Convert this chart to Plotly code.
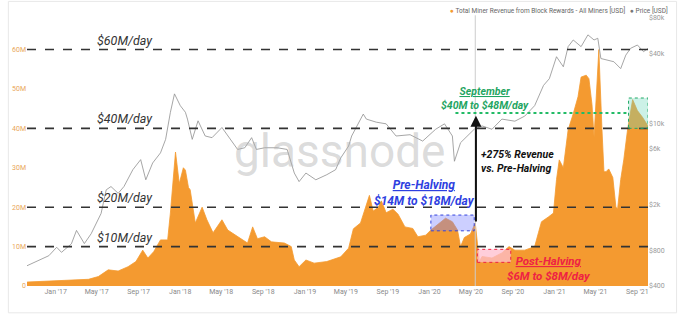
import plotly.graph_objects as go

# ---------------- data ----------------
rev_dates = ["2016-10-09","2016-12-29","2017-04-07","2017-05-06","2017-06-04","2017-07-03","2017-08-01",
             "2017-08-24","2017-09-13","2017-09-28","2017-10-15","2017-11-04","2017-11-25","2017-12-03",
             "2017-12-18","2017-12-29","2018-01-10","2018-01-16","2018-01-25","2018-01-30","2018-02-14",
             "2018-03-06","2018-03-20","2018-04-07","2018-05-03","2018-05-20","2018-06-18","2018-07-17",
             "2018-08-01","2018-08-15","2018-09-05","2018-09-25","2018-11-02","2018-11-22","2018-12-01",
             "2018-12-15","2019-01-04","2019-01-28","2019-03-06","2019-04-16","2019-05-09","2019-05-23",
             "2019-06-13","2019-06-27","2019-07-09","2019-07-20","2019-08-04","2019-08-13","2019-08-27",
             "2019-09-16","2019-10-01","2019-10-21","2019-11-13","2019-11-28","2019-12-21","2020-01-05",
             "2020-01-31","2020-02-17","2020-03-08","2020-03-23","2020-04-01","2020-04-12","2020-04-30",
             "2020-05-14","2020-05-26","2020-06-03","2020-07-02","2020-07-31","2020-08-21","2020-09-07",
             "2020-10-06","2020-11-04","2020-11-15","2020-11-24","2020-12-14","2020-12-29","2021-01-07",
             "2021-01-15","2021-01-27","2021-02-10","2021-02-25","2021-03-11","2021-03-20","2021-04-04",
             "2021-04-12","2021-04-21","2021-04-27","2021-05-06","2021-05-11","2021-05-20","2021-05-26",
             "2021-06-01","2021-06-09","2021-06-21","2021-06-30","2021-07-05","2021-07-14","2021-07-23",
             "2021-08-03","2021-08-18","2021-09-01","2021-09-16","2021-10-02"]
rev_musd = [1.0,1.3,1.7,2.4,4.1,3.8,4.9,
            6.2,9.1,7.1,8.7,11.7,11.7,18.5,
            34.0,26.0,30.0,29.4,25.0,24.4,16.0,
            20.0,16.8,13.5,16.8,14.2,12.5,10.9,
            15.0,12.0,12.5,11.2,10.9,10.0,6.6,
            4.9,6.6,5.8,6.2,7.4,9.6,14.5,
            16.0,20.0,23.0,19.0,20.0,21.6,18.6,
            19.5,18.2,15.0,14.6,12.5,12.9,14.2,
            15.9,17.2,16.3,14.2,10.0,12.3,13.2,
            16.0,6.2,7.5,7.1,8.4,10.0,9.1,
            9.1,10.0,13.5,16.3,17.5,18.5,27.0,
            32.0,30.0,39.6,43.7,48.0,53.0,53.5,
            52.6,46.0,37.8,50.5,60.0,40.0,29.0,
            29.0,29.7,27.5,20.0,19.6,27.0,32.0,
            39.6,47.3,44.5,42.8,40.6]

price_dates = ["2016-10-09","2016-11-13","2016-12-12","2017-01-04","2017-01-18","2017-02-16","2017-03-03",
               "2017-03-26","2017-04-15","2017-05-14","2017-05-29","2017-06-12","2017-07-03","2017-07-20",
               "2017-08-15","2017-09-07","2017-09-22","2017-10-12","2017-11-04","2017-11-19","2017-12-03",
               "2017-12-15","2018-01-01","2018-01-16","2018-01-22","2018-02-05","2018-02-22","2018-03-15",
               "2018-04-04","2018-05-03","2018-05-20","2018-06-18","2018-07-09","2018-07-29","2018-08-12",
               "2018-09-05","2018-10-12","2018-11-10","2018-12-01","2018-12-15","2019-01-04","2019-02-02",
               "2019-03-06","2019-04-01","2019-04-16","2019-05-09","2019-05-18","2019-06-21","2019-06-30",
               "2019-07-29","2019-08-27","2019-09-25","2019-11-05","2019-12-12","2020-01-19","2020-02-14",
               "2020-03-08","2020-03-14","2020-04-01","2020-04-15","2020-05-11","2020-06-03","2020-07-02",
               "2020-07-31","2020-09-07","2020-10-06","2020-11-04","2020-11-30","2020-12-17","2021-01-07",
               "2021-01-27","2021-02-10","2021-02-25","2021-03-20","2021-04-09","2021-04-27","2021-05-08",
               "2021-05-17","2021-06-06","2021-06-24","2021-07-14","2021-07-29","2021-08-12","2021-09-01",
               "2021-09-19","2021-10-02"]
price_usd = [597,660,728,860,778,920,1200,
             925,1125,1678,2675,2857,2500,2857,
             3985,4865,3265,4550,5560,7260,12380,
             17850,14140,12400,10840,7260,10480,7760,
             7510,9180,7760,5950,6150,7510,5950,
             6150,6150,5950,3730,3150,3730,3265,
             3610,3985,5030,6360,7760,11970,10840,
             10200,9870,7760,7960,7020,8870,9870,
             7760,4710,6800,7510,8870,9470,8870,
             10840,10400,11500,14140,21100,24100,37200,
             30500,45400,51800,45400,57300,51800,53600,
             35900,34700,33700,29400,38400,43900,46900,
             41100,43900]

ref_levels = [60, 40, 20, 10]
ref_labels = ["$60M/day", "$40M/day", "$20M/day", "$10M/day"]

x_ticks = ["2017-01-01","2017-05-01","2017-09-01","2018-01-01","2018-05-01","2018-09-01",
           "2019-01-01","2019-05-01","2019-09-01","2020-01-01","2020-05-01","2020-09-01",
           "2021-01-01","2021-05-01","2021-09-01"]
x_ticktext = ["Jan '17","May '17","Sep '17","Jan '18","May '18","Sep '18","Jan '19","May '19",
              "Sep '19","Jan '20","May '20","Sep '20","Jan '21","May '21","Sep '21"]
left_ticks = [0, 10, 20, 30, 40, 50, 60]
left_ticktext = ["0", "10M", "20M", "30M", "40M", "50M", "60M"]
right_ticks = [400, 800, 2000, 6000, 10000, 40000, 80000]
right_ticktext = ["$400", "$800", "$2k", "$6k", "$10k", "$40k", "$80k"]

ORANGE = "#f49a30"
FONT = "Roboto"

fig = go.Figure()
fig.add_trace(go.Scatter(x=price_dates, y=price_usd, mode="lines",
                         line=dict(color="#8f8f8f", width=0.8), name="Price", yaxis="y2"))
fig.add_trace(go.Scatter(x=rev_dates, y=rev_musd, mode="lines", fill="tozeroy",
                         line=dict(color=ORANGE, width=0.8), fillcolor=ORANGE,
                         name="Total Miner Revenue", yaxis="y"))

shapes = []
annotations = []
for lv, lb in zip(ref_levels, ref_labels):
    shapes.append(dict(type="line", xref="paper", x0=0, x1=1, yref="y", y0=lv, y1=lv,
                       line=dict(color="#333333", width=1.6, dash="dash")))
    annotations.append(dict(x="2017-04-25", y=lv, xref="x", yref="y", xanchor="left", yanchor="bottom",
                            text="<i>" + lb + "</i>", showarrow=False,
                            font=dict(family=FONT, size=12.5, color="#333333")))

# halving vertical line
shapes.append(dict(type="line", xref="x", x0="2020-05-14", x1="2020-05-14", yref="paper", y0=0, y1=1.01,
                   line=dict(color="#cccccc", width=1)))
# pre-halving box
shapes.append(dict(type="rect", xref="x", x0="2020-01-05", x1="2020-05-11", yref="y", y0=14, y1=18,
                   fillcolor="rgba(120,130,255,0.38)", line=dict(color="#3344dd", width=1, dash="dot")))
# post-halving box
shapes.append(dict(type="rect", xref="x", x0="2020-05-20", x1="2020-08-26", yref="y", y0=6.0, y1=9.3,
                   fillcolor="rgba(255,190,205,0.75)", line=dict(color="#ee2244", width=1, dash="dot")))
# september box
shapes.append(dict(type="rect", xref="x", x0="2021-08-06", x1="2021-10-02", yref="y", y0=40, y1=47.7,
                   fillcolor="rgba(110,215,185,0.35)", line=dict(color="#22aa66", width=1, dash="dot")))
# september dotted line
shapes.append(dict(type="line", xref="x", x0="2020-03-17", x1="2021-08-06", yref="y", y0=43.9, y1=43.9,
                   line=dict(color="#22bb66", width=2, dash="dot")))
# card border
shapes.append(dict(type="rect", xref="paper", yref="paper", x0=-0.03, x1=1.046, y0=-0.1, y1=1.062,
                   line=dict(color="#e8e8e8", width=1), layer="below"))

# arrow
annotations.append(dict(x="2020-05-16", y=43.2, ax="2020-05-16", ay=16, xref="x", yref="y",
                        axref="x", ayref="y", showarrow=True, arrowhead=2, arrowsize=1.1,
                        arrowwidth=2, arrowcolor="#111111", text=""))
annotations.append(dict(x="2020-05-24", y=31.6, xref="x", yref="y", xanchor="left", yanchor="middle",
                        text="<b><i>+275% Revenue<br>vs. Pre-Halving</i></b>", showarrow=False, align="left",
                        font=dict(family=FONT, size=10.5, color="#111111")))
annotations.append(dict(x="2020-06-12", y=43.7, xref="x", yref="y", xanchor="center", yanchor="bottom",
                        text="<b><i><u>September</u><br>$40M to $48M/day</i></b>", showarrow=False,
                        font=dict(family=FONT, size=10.5, color="#1fa562")))
annotations.append(dict(x="2019-12-18", y=19.3, xref="x", yref="y", xanchor="center", yanchor="bottom",
                        text="<b><i><u>Pre-Halving</u><br>$14M to $18M/day</i></b>", showarrow=False,
                        font=dict(family=FONT, size=12, color="#2e3fe0")))
annotations.append(dict(x="2020-12-17", y=0.3, xref="x", yref="y", xanchor="center", yanchor="bottom",
                        text="<b><i><u>Post-Halving</u><br>$6M to $8M/day</i></b>", showarrow=False,
                        font=dict(family=FONT, size=11.5, color="#ee2244")))
# watermark
annotations.append(dict(x="2019-04-15", y=34.3, xref="x", yref="y", xanchor="center", yanchor="middle",
                        text="glassnode", showarrow=False,
                        font=dict(family=FONT, size=46, color="rgba(175,175,175,0.45)")))
# legend
annotations.append(dict(x=0.678, y=1.028, xref="paper", yref="paper", xanchor="left", yanchor="middle",
                        text="<span style='color:" + ORANGE + "'>●</span> Total Miner Revenue from Block Rewards - All Miners [USD]",
                        showarrow=False, font=dict(family=FONT, size=6.5, color="#666666")))
annotations.append(dict(x=0.968, y=1.028, xref="paper", yref="paper", xanchor="left", yanchor="middle",
                        text="<span style='color:#777777'>●</span> Price [USD]",
                        showarrow=False, font=dict(family=FONT, size=6.5, color="#666666")))

fig.update_layout(
    width=679, height=317, margin=dict(l=20, r=31, t=18, b=31),
    paper_bgcolor="white", plot_bgcolor="white", showlegend=False,
    font=dict(family=FONT),
    xaxis=dict(range=["2016-10-09", "2021-10-02"], tickvals=x_ticks, ticktext=x_ticktext,
               showgrid=False, zeroline=False, showline=False, ticks="",
               tickfont=dict(size=7, color="#8a8a8a")),
    yaxis=dict(range=[0, 68], tickvals=left_ticks, ticktext=left_ticktext, showgrid=False,
               zeroline=False, showline=False, ticks="", tickfont=dict(size=7, color="#e9a65a")),
    yaxis2=dict(type="log", overlaying="y", side="right", range=[2.602, 4.903],
                tickvals=right_ticks, ticktext=right_ticktext, showgrid=False, zeroline=False,
                showline=False, ticks="", tickfont=dict(size=7, color="#9a9a9a")),
    shapes=shapes, annotations=annotations,
)

fig.write_html("out.html")
